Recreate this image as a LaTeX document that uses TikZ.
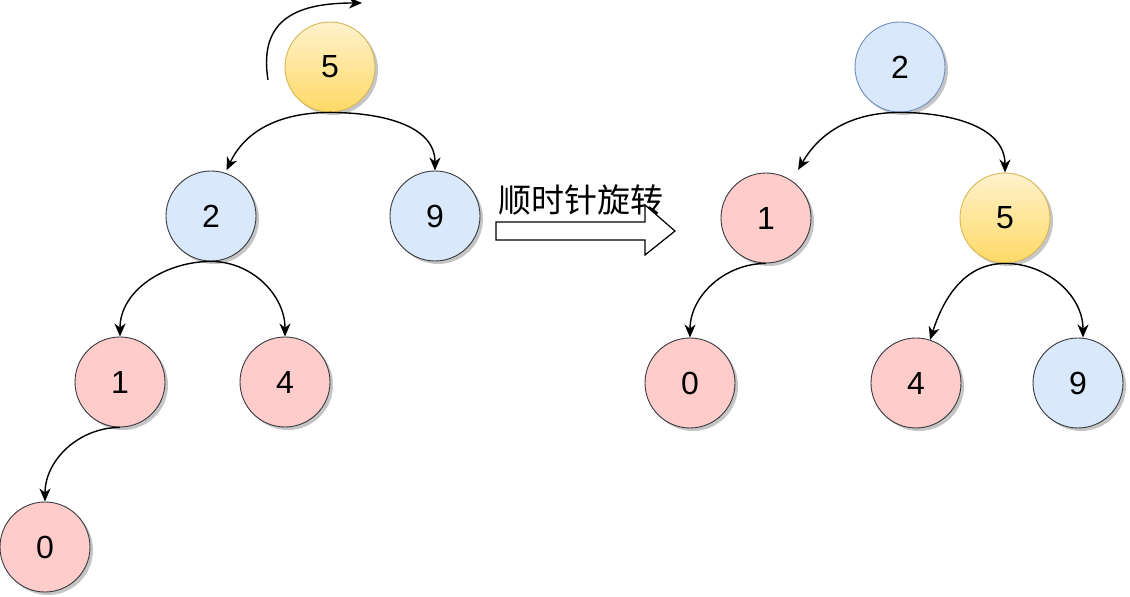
\documentclass[tikz,border=0pt]{standalone}
\usepackage{fontspec}
\setmainfont{Liberation Sans}
\newfontfamily\cjk{Noto Sans CJK SC}
\usepackage{tikz}
\usetikzlibrary{arrows.meta, shadows}

\definecolor{pinkfill}{HTML}{FFCCCC}
\definecolor{bluefill}{HTML}{DAE8FC}
\definecolor{blueline}{HTML}{6C8EBF}
\definecolor{goldtop}{HTML}{FFF2CC}
\definecolor{goldbot}{HTML}{FFD966}
\definecolor{goldline}{HTML}{D6B656}
\definecolor{keyline}{HTML}{36393D}

\begin{document}
\begin{tikzpicture}[x=1pt, y=1pt, >={Stealth[length=13pt, width=11pt, inset=4pt]}, inner sep=0pt,
		key/.style={circle, draw=keyline, line width=0.9pt, minimum size=90pt, font=\fontsize{32}{36}\selectfont,
			drop shadow={shadow xshift=3pt, shadow yshift=-3pt, fill=black!45, opacity=0.5}},
		pinkkey/.style={key, fill=pinkfill},
		bluekey/.style={key, fill=bluefill},
		goldkey/.style={key, draw=goldline, top color=goldtop, bottom color=goldbot},
		link/.style={->, line width=1.4pt}]
	\useasboundingbox (0,0) rectangle (1130,597);
	
	% before the rotation
	\node[goldkey](l5) at (330,530) {5};
	\node[bluekey](l2) at (211,381) {2};
	\node[bluekey](l9) at (435,381) {9};
	\node[pinkkey](l1) at (120,215) {1};
	\node[pinkkey](l4) at (285,215) {4};
	\node[pinkkey](l0) at (45,50) {0};
	
	\draw[link](l5.south) to[out=180, in=65] ([yshift=3pt]l2.70);
	\draw[link](l5.south) to[out=0, in=90] (l9.north);
	\draw[link](l2.south) to[out=180, in=90] (l1.north);
	\draw[link](l2.south) to[out=0, in=90] (l4.north);
	\draw[link](l1.south) to[out=180, in=90] (l0.north);
	
	\coordinate (turnA) at (268,517);
	\coordinate (turnB) at (362,594);
	\draw[link](turnA) .. controls (258,580) and (300,594) .. (turnB);
	
	% the arrow and its label
	\node[font=\cjk\fontsize{33}{36}\selectfont](label) at (581,397) {顺时针旋转};
	\draw[line width=1.2pt, line join=miter] (496,375) -- (645,375) -- (645,392) -- (675,366)
		-- (645,342) -- (645,357) -- (496,357) -- cycle;
	
	% after the rotation
	\node[bluekey, draw=blueline](r2) at (900,530) {2};
	\node[pinkkey](r1) at (766,379) {1};
	\node[goldkey](r5) at (1005,379) {5};
	\node[pinkkey](r0) at (690,214) {0};
	\node[pinkkey](r4) at (916,214) {4};
	\node[bluekey](r9) at (1078,214) {9};
	
	\draw[link](r2.south) to[out=180, in=60] ([yshift=16pt]r1.45);
	\draw[link](r2.south) to[out=0, in=90] (r5.north);
	\draw[link](r1.south) to[out=180, in=90] (r0.north);
	\draw[link](r5.south) to[out=180, in=72] (r4.72);
	\draw[link](r5.south) to[out=0, in=90] ([xshift=5pt]r9.north);
\end{tikzpicture}
\end{document}
